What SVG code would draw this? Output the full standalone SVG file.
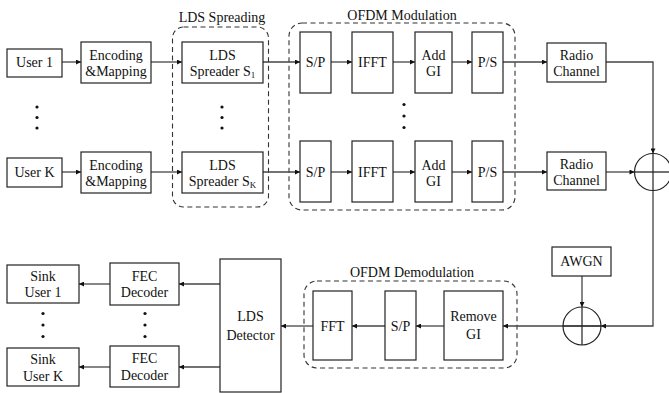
<svg xmlns="http://www.w3.org/2000/svg" width="669" height="393" viewBox="0 0 669 393">
<style>
.b{fill:#fff;stroke:#222;stroke-width:1.2}
.d{fill:none;stroke:#333;stroke-width:1.1;stroke-dasharray:5,3.5}
.t{font-family:"Liberation Serif","Times New Roman",serif;font-size:14px;fill:#111;text-anchor:middle}
.l{fill:none;stroke:#444;stroke-width:1.3}
.c{fill:none;stroke:#222;stroke-width:1.2}
.dot{fill:#111}
</style>
<defs>
<marker id="a" viewBox="0 0 10 10" refX="10" refY="5" markerWidth="7" markerHeight="5" markerUnits="userSpaceOnUse" orient="auto">
<path d="M0,0 L10,5 L0,10 z" fill="#111"/>
</marker>
</defs>

<g id="groups">
<rect class="d" x="172.5" y="27" width="96" height="180" rx="11"/>
<text class="t" x="222" y="22">LDS Spreading</text>
<rect class="d" x="289" y="23" width="226" height="187" rx="13"/>
<text class="t" x="402" y="20">OFDM Modulation</text>
<rect class="d" x="304" y="281" width="213" height="87" rx="13"/>
<text class="t" x="412" y="277">OFDM Demodulation</text>
</g>

<g id="connectors">
<path class="l" d="M62,62 H81" marker-end="url(#a)"/>
<path class="l" d="M151,62 H182" marker-end="url(#a)"/>
<path class="l" d="M263,62 H300" marker-end="url(#a)"/>
<path class="l" d="M331,62 H352" marker-end="url(#a)"/>
<path class="l" d="M393,62 H415" marker-end="url(#a)"/>
<path class="l" d="M452,62 H472" marker-end="url(#a)"/>
<path class="l" d="M503,62 H547" marker-end="url(#a)"/>
<path class="l" d="M606,62 H653 V153.5" marker-end="url(#a)"/>
<path class="l" d="M62,172 H81" marker-end="url(#a)"/>
<path class="l" d="M151,172 H182" marker-end="url(#a)"/>
<path class="l" d="M263,172 H300" marker-end="url(#a)"/>
<path class="l" d="M331,172 H352" marker-end="url(#a)"/>
<path class="l" d="M393,172 H415" marker-end="url(#a)"/>
<path class="l" d="M452,172 H472" marker-end="url(#a)"/>
<path class="l" d="M503,172 H547" marker-end="url(#a)"/>
<path class="l" d="M606,172 H634.5" marker-end="url(#a)"/>
<path class="l" d="M634.5,172 H669"/>
<path class="l" d="M653,190.5 V326 H601" marker-end="url(#a)"/>
<path class="l" d="M582,276 V307" marker-end="url(#a)"/>
<path class="l" d="M601,326 H503" marker-end="url(#a)"/>
<path class="l" d="M444,326 H416" marker-end="url(#a)"/>
<path class="l" d="M385,326 H352" marker-end="url(#a)"/>
<path class="l" d="M313,326 H281" marker-end="url(#a)"/>
<path class="l" d="M220,284 H179" marker-end="url(#a)"/>
<path class="l" d="M110,284 H79" marker-end="url(#a)"/>
<path class="l" d="M220,367 H179" marker-end="url(#a)"/>
<path class="l" d="M110,367 H79" marker-end="url(#a)"/>
</g>

<g id="sum1">
<circle class="c" cx="653" cy="172" r="18.5"/>
<path class="c" d="M653,153.5 V190.5"/>
</g>
<g id="sum2">
<circle class="c" cx="582" cy="326" r="19"/>
<path class="c" d="M582,307 V345 M563,326 H601"/>
</g>

<g id="user1"><rect class="b" x="7" y="49" width="55" height="28"/><text class="t" x="34.5" y="67">User 1</text></g>
<g id="userK"><rect class="b" x="7" y="158" width="55" height="29"/><text class="t" x="34.5" y="177">User K</text></g>
<g id="enc1"><rect class="b" x="81" y="42" width="70" height="41"/><text class="t" x="116" y="59.5">Encoding</text><text class="t" x="116" y="76">&amp;Mapping</text></g>
<g id="encK"><rect class="b" x="81" y="152" width="70" height="41"/><text class="t" x="116" y="169.5">Encoding</text><text class="t" x="116" y="186">&amp;Mapping</text></g>
<g id="spr1"><rect class="b" x="182" y="42" width="81" height="41"/><text class="t" x="222.5" y="59.5">LDS</text><text class="t" x="222.5" y="76">Spreader S<tspan font-size="9" dy="2">1</tspan></text></g>
<g id="sprK"><rect class="b" x="182" y="152" width="81" height="41"/><text class="t" x="222.5" y="169.5">LDS</text><text class="t" x="222.5" y="186">Spreader S<tspan font-size="9" dy="2">K</tspan></text></g>

<g id="sp1"><rect class="b" x="300" y="32" width="31" height="61"/><text class="t" x="315.5" y="67">S/P</text></g>
<g id="ifft1"><rect class="b" x="352" y="32" width="41" height="61"/><text class="t" x="372.5" y="67">IFFT</text></g>
<g id="addgi1"><rect class="b" x="415" y="32" width="37" height="61"/><text class="t" x="433.5" y="59.5">Add</text><text class="t" x="433.5" y="76">GI</text></g>
<g id="ps1"><rect class="b" x="472" y="32" width="31" height="61"/><text class="t" x="487.5" y="67">P/S</text></g>
<g id="spK"><rect class="b" x="300" y="141" width="31" height="61"/><text class="t" x="315.5" y="177">S/P</text></g>
<g id="ifftK"><rect class="b" x="352" y="141" width="41" height="61"/><text class="t" x="372.5" y="177">IFFT</text></g>
<g id="addgiK"><rect class="b" x="415" y="141" width="37" height="61"/><text class="t" x="433.5" y="169.5">Add</text><text class="t" x="433.5" y="186">GI</text></g>
<g id="psK"><rect class="b" x="472" y="141" width="31" height="61"/><text class="t" x="487.5" y="177">P/S</text></g>

<g id="radio1"><rect class="b" x="547" y="43" width="59" height="39"/><text class="t" x="576.5" y="59.5">Radio</text><text class="t" x="576.5" y="76">Channel</text></g>
<g id="radioK"><rect class="b" x="547" y="152" width="59" height="38"/><text class="t" x="576.5" y="168.5">Radio</text><text class="t" x="576.5" y="185">Channel</text></g>

<g id="awgn"><rect class="b" x="552" y="247" width="59" height="29"/><text class="t" x="581.5" y="266">AWGN</text></g>
<g id="removegi"><rect class="b" x="444" y="291" width="59" height="69"/><text class="t" x="473.5" y="321">Remove</text><text class="t" x="473.5" y="339">GI</text></g>
<g id="sp2"><rect class="b" x="385" y="291" width="31" height="69"/><text class="t" x="400.5" y="331">S/P</text></g>
<g id="fft"><rect class="b" x="313" y="291" width="39" height="69"/><text class="t" x="332.5" y="331">FFT</text></g>
<g id="detector"><rect class="b" x="220" y="259" width="61" height="133"/><text class="t" x="250.5" y="321">LDS</text><text class="t" x="250.5" y="339.5">Detector</text></g>
<g id="fec1"><rect class="b" x="110" y="263" width="69" height="42"/><text class="t" x="144.5" y="280.5">FEC</text><text class="t" x="144.5" y="297">Decoder</text></g>
<g id="fecK"><rect class="b" x="110" y="346" width="69" height="41"/><text class="t" x="144.5" y="363">FEC</text><text class="t" x="144.5" y="379.5">Decoder</text></g>
<g id="sink1"><rect class="b" x="7" y="265" width="72" height="38"/><text class="t" x="43" y="280.5">Sink</text><text class="t" x="43" y="297">User 1</text></g>
<g id="sinkK"><rect class="b" x="7" y="348" width="72" height="38"/><text class="t" x="43" y="364">Sink</text><text class="t" x="43" y="380.5">User K</text></g>

<g id="dots">
<circle class="dot" cx="37" cy="107" r="1.6"/><circle class="dot" cx="37" cy="117.5" r="1.6"/><circle class="dot" cx="37" cy="128" r="1.6"/>
<circle class="dot" cx="222" cy="107" r="1.6"/><circle class="dot" cx="222" cy="117.5" r="1.6"/><circle class="dot" cx="222" cy="128" r="1.6"/>
<circle class="dot" cx="404" cy="104.5" r="1.6"/><circle class="dot" cx="404" cy="116" r="1.6"/><circle class="dot" cx="404" cy="127.5" r="1.6"/>
<circle class="dot" cx="43" cy="313.5" r="1.6"/><circle class="dot" cx="43" cy="325" r="1.6"/><circle class="dot" cx="43" cy="336.5" r="1.6"/>
<circle class="dot" cx="145" cy="313.5" r="1.6"/><circle class="dot" cx="145" cy="325" r="1.6"/><circle class="dot" cx="145" cy="336.5" r="1.6"/>
</g>
</svg>
